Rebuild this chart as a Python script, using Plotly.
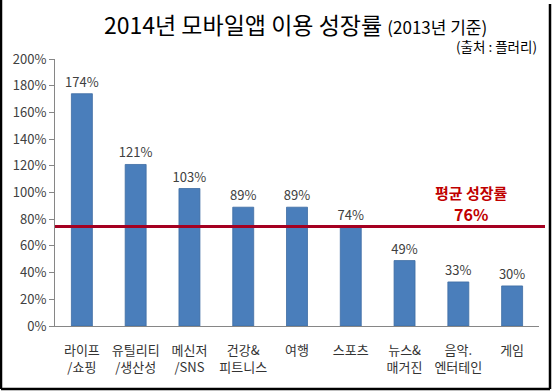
import plotly.graph_objects as go

categories = ["라이프<br>/쇼핑", "유틸리티<br>/생산성", "메신저<br>/SNS", "건강&<br>피트니스", "여행",
              "스포츠", "뉴스&<br>매거진", "음악.<br>엔터테인", "게임"]
growth = [1.74, 1.21, 1.03, 0.89, 0.89, 0.74, 0.49, 0.33, 0.30]
bar_labels = ["174%", "121%", "103%", "89%", "89%", "74%", "49%", "33%", "30%"]
avg_line = 0.745
avg_label = "76%"
y_ticks = [0, 0.2, 0.4, 0.6, 0.8, 1.0, 1.2, 1.4, 1.6, 1.8, 2.0]
y_tick_text = ["0%", "20%", "40%", "60%", "80%", "100%", "120%", "140%", "160%", "180%", "200%"]

W, H = 552, 392
ML, MR, MT, MB = 55, 13, 59, 66
PW, PH = W - ML - MR, H - MT - MB

def px(x):
    return (x - ML) / PW

def py(y):
    return (H - MB - y) / PH

FONT = "Noto Sans CJK KR"

fig = go.Figure()
fig.add_trace(go.Bar(
    x=categories, y=growth, text=bar_labels, textposition="outside", constraintext="none",
    textfont=dict(family=FONT, size=13, color="#404040"),
    marker=dict(color="#4A7EBB", line=dict(color="#3E6CA3", width=0.8)),
    cliponaxis=False, width=0.39,
))

fig.add_shape(type="line", xref="paper", yref="y", x0=0, x1=px(545), y0=avg_line, y1=avg_line,
              line=dict(color="#A50021", width=3))

# frame
for (x0, y0, x1, y1) in [(1, 0, 1, 389), (550, 4, 550, 389), (1, 389, 550, 389)]:
    fig.add_shape(type="line", xref="paper", yref="paper", x0=px(x0), x1=px(x1), y0=py(y0), y1=py(y1),
                  line=dict(color="#000000", width=2.5))

def note(x, y, text, size, color, xanchor="center"):
    fig.add_annotation(xref="paper", yref="paper", x=px(x), y=py(y), text=text,
                       xanchor=xanchor, yanchor="middle", showarrow=False,
                       font=dict(family=FONT, size=size, color=color))

note(471, 192, "<b>평균 성장률</b>", 15, "#C00000")
note(471, 214, "<b>" + avg_label + "</b>", 16, "#C00000")
note(295, 24, "2014년 모바일앱 이용 성장률 <span style='font-size:17px'>(2013년 기준)</span>", 23, "#000000")
note(539, 46, "(출처 : 플러리)", 13.5, "#000000", xanchor="right")

fig.update_layout(
    width=W, height=H, margin=dict(l=ML, r=MR, t=MT, b=MB),
    paper_bgcolor="white", plot_bgcolor="white", showlegend=False,
    bargap=0.61,
    font=dict(family=FONT, size=13, color="#404040"),
)
fig.update_xaxes(showline=True, linecolor="#868686", linewidth=1, ticks="", showgrid=False,
                 ticklabelstandoff=12,
                 tickfont=dict(family=FONT, size=13, color="#333333"))
fig.update_yaxes(range=[0, 2.0], tickvals=y_ticks, ticktext=y_tick_text, showline=True,
                 linecolor="#868686", linewidth=1, ticks="outside", ticklen=5, tickcolor="#868686",
                 showgrid=False, zeroline=False, tickfont=dict(family=FONT, size=13, color="#404040"))

fig.write_html("out.html", config={"displayModeBar": False},
               post_script="document.body.style.margin='0';document.body.style.overflow='hidden';")
